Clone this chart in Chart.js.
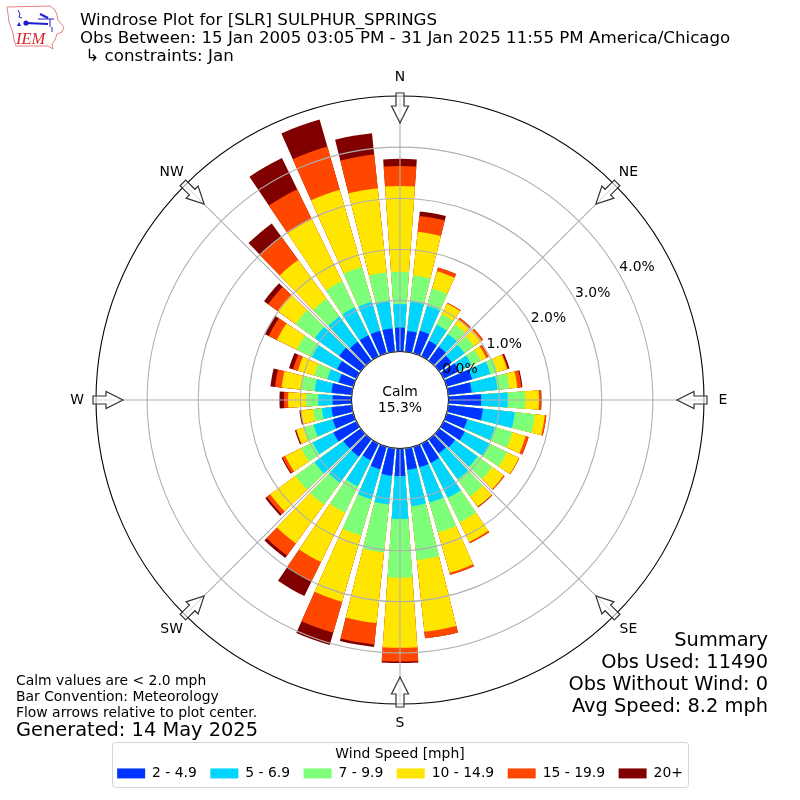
<!DOCTYPE html>
<html><head><meta charset="utf-8">
<style>html,body{margin:0;padding:0;background:#fff}canvas{display:block}</style>
<script src="https://cdn.jsdelivr.net/npm/chart.js@4"></script></head>
<body><canvas id="c" width="800" height="800" style="width:800px;height:800px"></canvas>
<script>
const directions = [0,10,20,30,40,50,60,70,80,90,100,110,120,130,140,150,160,170,180,190,200,210,220,230,240,250,260,270,280,290,300,310,320,330,340,350];
const speed2to4 = [.47,.41,.46,.34,.34,.30,.34,.52,.46,.64,.68,.42,.46,.38,.34,.42,.42,.42,.54,.54,.46,.36,.42,.42,.50,.42,.40,.37,.40,.30,.42,.52,.46,.46,.46,.46];
const speed5to6 = [.46,.58,.51,.35,.31,.31,.27,.37,.51,.52,.63,.56,.55,.55,.63,.76,.72,.72,.84,.57,.61,.57,.63,.70,.45,.39,.19,.28,.33,.23,.55,.59,.61,.61,.59,.55];
const speed7to9 = [.63,.51,.35,.23,.23,.23,.20,.14,.23,.34,.39,.36,.37,.35,.41,.53,.61,1.06,1.15,.94,.74,.57,.53,.46,.25,.21,.17,.24,.27,.27,.33,.47,.43,.57,.71,.55];
const speed10to14 = [1.68,.86,.35,.23,.12,.18,.12,.20,.16,.27,.20,.27,.26,.28,.25,.43,.82,1.41,1.37,1.39,1.35,1.08,.94,.61,.35,.14,.24,.35,.38,.33,.43,.43,.94,1.35,1.57,1.66];
const speed15to19 = [.39,.31,.08,.02,.04,.04,.05,.02,.08,.04,.03,.06,.01,.02,.01,.03,.04,.13,.27,.42,.63,.41,.29,.08,.06,.01,.01,.08,.13,.10,.18,.23,.55,.65,.88,.66];
const speed20plus = [.14,.09,0,0,0,0,0,.03,.02,.01,0,0,0,0,.01,0,0,0,.03,.05,.25,.33,.06,.04,.02,.02,.02,.09,.09,.08,.08,.10,.33,.68,.55,.42];
const seriesNames = ['2 - 4.9','5 - 6.9','7 - 9.9','10 - 14.9','15 - 19.9','20+'];
const seriesColors = ['#0033ff','#00d5ff','#7eff7a','#ffe600','#ff4700','#800000'];
const radialTicks = [0,1,2,3,4];
const compassNames = ['N','NE','E','SE','S','SW','W','NW'];
const titleLines = ['Windrose Plot for [SLR] SULPHUR_SPRINGS','Obs Between: 15 Jan 2005 03:05 PM - 31 Jan 2025 11:55 PM America/Chicago',' \u21B3 constraints: Jan'];
const summaryLines = ['Summary','Obs Used: 11490','Obs Without Wind: 0','Avg Speed: 8.2 mph'];
const noteLines = ['Calm values are < 2.0 mph','Bar Convention: Meteorology','Flow arrows relative to plot center.'];
const generatedLine = 'Generated: 14 May 2025';
const calmLines = ['Calm','15.3%'];

const FONT = '"DejaVu Sans"';
const allSeries = [speed2to4,speed5to6,speed7to9,speed10to14,speed15to19,speed20plus];
const running = directions.map(()=>0);
const datasets = allSeries.map((s,i)=>{
  const data = [];
  s.forEach((v,k)=>{ running[k]+=v; data.push(running[k]); data.push(null); });
  return {label:seriesNames[i],data,backgroundColor:seriesColors[i],borderWidth:0,
          angle:c=>c.dataIndex%2?2:8};
});
const labels = [];
directions.forEach(d=>{labels.push(String(d));labels.push('');});

function txt(ctx,s,x,y,size,align,color,family){
  ctx.font=size+'px '+(family||FONT);ctx.textAlign=align||'left';ctx.textBaseline='middle';
  ctx.fillStyle=color||'#000';ctx.fillText(s,x,y+1);
}
function poly(ctx,pts,close){
  ctx.beginPath();pts.forEach((p,k)=>k?ctx.lineTo(p[0],p[1]):ctx.moveTo(p[0],p[1]));if(close)ctx.closePath();
}
const deco={
  id:'deco',
  afterLayout(chart){const l=chart.legend;l.top=742;l.bottom=788;},
  beforeDraw(chart){
    const ctx=chart.ctx;ctx.save();
    ctx.beginPath();ctx.roundRect(112.5,742.5,576,45,3);
    ctx.fillStyle='#fff';ctx.fill();ctx.strokeStyle='#d5d5d5';ctx.lineWidth=1;ctx.stroke();ctx.restore();
  },
  afterDatasetsDraw(chart){
    const ctx=chart.ctx,sc=chart.scales.r;ctx.save();
    ctx.strokeStyle='#b0b0b0';ctx.lineWidth=1.1;
    for(let i=0;i<8;i++){const a=i*Math.PI/4;ctx.beginPath();ctx.moveTo(sc.xCenter,sc.yCenter);
      ctx.lineTo(sc.xCenter+sc.drawingArea*Math.sin(a),sc.yCenter-sc.drawingArea*Math.cos(a));ctx.stroke();}
    ctx.restore();
  },
  afterDraw(chart){
    const ctx=chart.ctx,sc=chart.scales.r,cx=sc.xCenter,cy=sc.yCenter;ctx.save();
    // calm disc
    ctx.beginPath();ctx.arc(cx,cy,sc.getDistanceFromCenterForValue(0),0,Math.PI*2);
    ctx.fillStyle='#fff';ctx.fill();ctx.strokeStyle='#111';ctx.lineWidth=1;ctx.stroke();
    txt(ctx,calmLines[0],cx,391,13.9,'center');txt(ctx,calmLines[1],cx,407,13.9,'center');
    // radial tick labels
    radialTicks.forEach(v=>{const r=sc.getDistanceFromCenterForValue(v);
      txt(ctx,v.toFixed(1)+'%',cx+r*Math.cos(Math.PI/6)+18,cy-r*Math.sin(Math.PI/6)-7,13.9,'center');});
    // compass labels and arrows
    compassNames.forEach((n,i)=>{
      const a=i*Math.PI/4,sx=Math.sin(a),cs=-Math.cos(a);
      txt(ctx,n,cx+323*sx,cy+323*cs-0.5,13.9,'center');
      const P=(r,w)=>[cx+r*sx-w*cs,cy+r*cs+w*sx];
      poly(ctx,[P(307,-4),P(294,-4),P(294,-8.5),P(277,0),P(294,8.5),P(294,4),P(307,4)],true);
      ctx.fillStyle='rgba(255,255,255,0.6)';ctx.fill();ctx.strokeStyle='#333';ctx.lineWidth=1.2;ctx.stroke();
    });
    // header
    txt(ctx,titleLines[0],80,20,16.67);txt(ctx,titleLines[1],80,38,16.67);txt(ctx,titleLines[2],80,56,16.67);
    // summary
    [640,662,684,706].forEach((y,i)=>txt(ctx,summaryLines[i],768,y,19.4,'right'));
    // notes
    [680,696,712].forEach((y,i)=>txt(ctx,noteLines[i],16,y,13.9));
    txt(ctx,generatedLine,16,729.5,19.4);
    // logo
    ctx.strokeStyle='#e58080';ctx.lineWidth=1;
    poly(ctx,[[7,7],[50,6],[55,10],[57,15],[58,20],[64,27],[62,32],[57,34],[55,40],[52,44],[53,49],[48,46],[16,46],[14,40],[13,33],[9,22],[8,14]],true);ctx.stroke();
    ctx.strokeStyle='#1f1fd0';ctx.lineWidth=2;
    poly(ctx,[[25,23],[48,24]]);ctx.stroke();
    poly(ctx,[[40,14],[48,18]]);ctx.stroke();
    ctx.lineWidth=1;
    poly(ctx,[[18,10],[20,14],[19,17],[22,18]]);ctx.stroke();
    poly(ctx,[[38,19],[54,19]]);ctx.stroke();
    poly(ctx,[[50,19],[50,27]]);ctx.stroke();
    poly(ctx,[[52,27],[52,32]]);ctx.stroke();
    ctx.fillStyle='#1f1fd0';ctx.beginPath();ctx.arc(26,23,2.6,0,7);ctx.fill();
    poly(ctx,[[17,26],[21,26],[19,22]],true);ctx.fill();
    ctx.font='italic 16.5px "Liberation Serif"';ctx.textAlign='left';ctx.textBaseline='alphabetic';ctx.fillStyle='#d62728';ctx.fillText('IEM',16,43.5);
    ctx.restore();
  }
};
new Chart(document.getElementById('c'),{
  type:'polarArea',
  data:{labels,datasets},
  plugins:[deco],
  options:{
    responsive:false,animation:false,devicePixelRatio:1,events:[],
    layout:{padding:{top:96,left:96,right:96,bottom:50}},
    font:{family:FONT},
    scales:{r:{
      min:-0.949,max:5,startAngle:-4,
      ticks:{display:false,stepSize:1},
      pointLabels:{display:false},
      angleLines:{display:false},
      grid:{circular:true,z:1,lineWidth:1.1,color:c=>c.tick.value===5?'#000':'#b0b0b0'}
    }},
    plugins:{
      tooltip:{enabled:false},
      legend:{
        position:'bottom',maxHeight:46,
        title:{display:true,text:'Wind Speed [mph]',color:'#000',font:{family:FONT,size:13.9},padding:{top:5,bottom:-10.7}},
        labels:{
          boxWidth:28,boxHeight:10,padding:13.5,color:'#000',font:{family:FONT,size:13.9},
          generateLabels:()=>seriesNames.map((n,i)=>({text:n,fillStyle:seriesColors[i],strokeStyle:seriesColors[i],lineWidth:0,hidden:false,datasetIndex:i}))
        }
      }
    }
  }
});
</script></body></html>
